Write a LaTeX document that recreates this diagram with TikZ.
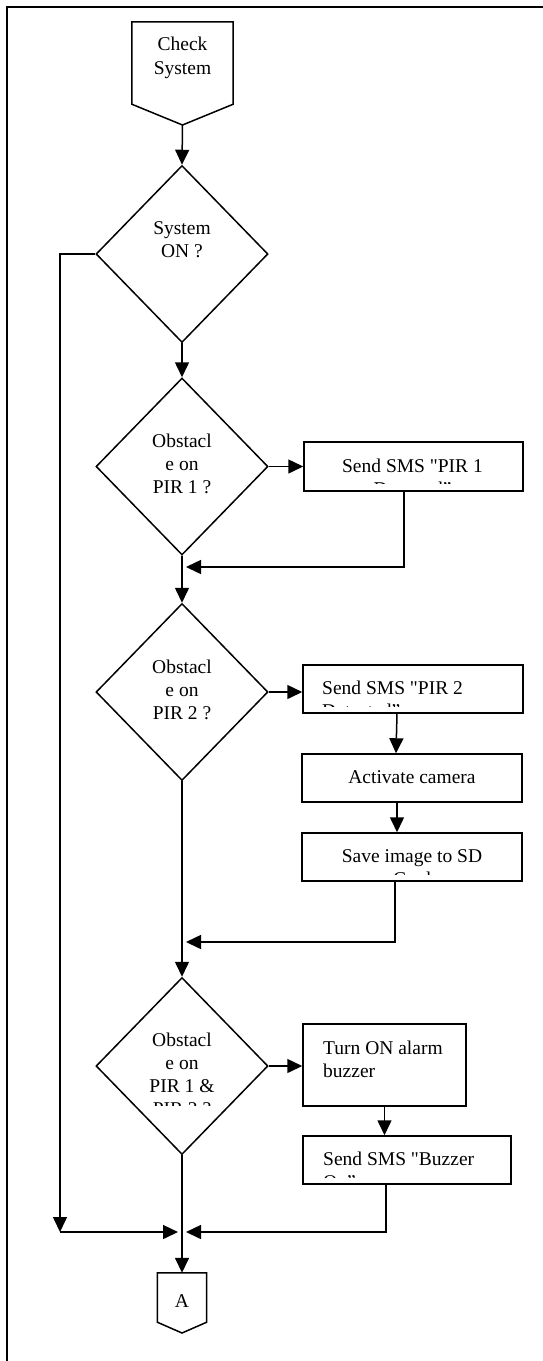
\documentclass[tikz,border=0pt]{standalone}
\usepackage{fontspec}
\newfontfamily\rawserif{Liberation Serif}
\usetikzlibrary{shapes.geometric,arrows.meta,calc}
\begin{document}
\begin{tikzpicture}[x=1pt,y=-1pt,
  every node/.style={font=\rawserif\fontsize{19.5}{23.5}\selectfont},
  shp/.style={draw,line width=1.5pt,inner sep=0pt},
  box/.style={shp,rectangle},
  dia/.style={shp,diamond,minimum width=172pt,minimum height=177pt},
  ghost/.style={rectangle,inner sep=0pt},
  ln/.style={line width=1.5pt},
  arr/.style={line width=1.5pt,-{Triangle[length=15pt,width=14pt]}},
  lbc/.style={anchor=base,inner sep=0pt},
  lbl/.style={anchor=base west,inner sep=0pt},
  frame/.style={line width=1.8pt}]
\useasboundingbox (0,0) rectangle (543,1361);
\draw[frame] (7,1361) -- (7,7) -- (543,7);

% Check System
\node[ghost,minimum width=101pt,minimum height=82pt] (cs) at (182.5,63) {};
\coordinate (cstip) at (182.5,125);
\draw[ln,line join=miter] (cs.north west) -- (cs.north east) -- (cs.south east) -- (cstip) -- (cs.south west) -- cycle;
\node[lbc] (cs1) at (182.5,50) {Check};
\node[lbc] (cs2) at (182.5,74) {System};

% Decisions
\node[dia] (d1) at (182,254) {};
\node[lbc] (d1a) at (182,234) {System};
\node[lbc] (d1b) at (182,257) {ON ?};

\node[dia] (d2) at (182,466.5) {};
\node[lbc] (d2a) at (182,447) {Obstacl};
\node[lbc] (d2b) at (182,470) {e on};
\node[lbc] (d2c) at (182,493) {PIR 1 ?};

\node[dia] (d3) at (182,692) {};
\node[lbc] (d3a) at (182,673) {Obstacl};
\node[lbc] (d3b) at (182,696) {e on};
\node[lbc] (d3c) at (182,719) {PIR 2 ?};

\node[dia] (d4) at (182,1066) {};
\node[lbc] (d4a) at (182,1046) {Obstacl};
\node[lbc] (d4b) at (182,1069) {e on};
\node[lbc] (d4c) at (182,1092) {PIR 1 \&};
\begin{scope}
  \clip (110,1097) rectangle (255,1105);
  \node[lbc] (d4d) at (182,1115.5) {PIR 2 ?};
\end{scope}

% Process boxes
\node[box,minimum width=219pt,minimum height=49pt] (b1) at (413.5,466.5) {};
\node[lbc] (b1a) at (412.5,472) {Send SMS "PIR 1};
\begin{scope}
  \clip (306,477) rectangle (521,483);
  \node[lbc] (b1b) at (412.5,495.5) {Detected”};
\end{scope}

\node[box,minimum width=220pt,minimum height=48pt] (b2) at (413,689) {};
\node[lbl] (b2a) at (322,694) {Send SMS "PIR 2};
\begin{scope}
  \clip (305,699) rectangle (521,706);
  \node[lbl] (b2b) at (322,717.5) {Detected”};
\end{scope}

\node[box,minimum width=220pt,minimum height=48pt] (b3) at (412,778) {};
\node[lbc] (b3a) at (412,783) {Activate camera};

\node[box,minimum width=220pt,minimum height=48pt] (b4) at (412,857) {};
\node[lbc] (b4a) at (412,862) {Save image to SD};
\begin{scope}
  \clip (304,867) rectangle (520,874);
  \node[lbc] (b4b) at (412,885.5) {Card};
\end{scope}

\node[box,minimum width=163pt,minimum height=82pt] (b5) at (384.5,1065) {};
\node[lbl] (b5a) at (323,1054) {Turn ON alarm};
\node[lbl] (b5b) at (323,1077.5) {buzzer};

\node[box,minimum width=208pt,minimum height=48pt] (b6) at (407,1160) {};
\node[lbl] (b6a) at (323,1165) {Send SMS "Buzzer};
\begin{scope}
  \clip (305,1170) rectangle (509,1177);
  \node[lbl] (b6b) at (323,1188.5) {On”};
\end{scope}

% Connector A
\node[ghost,minimum width=49pt,minimum height=49pt] (an) at (182,1297.5) {};
\coordinate (atip) at (182,1333);
\draw[ln,line join=miter] (an.north west) -- (an.north east) -- (an.south east) -- (atip) -- (an.south west) -- cycle;
\node[lbc] (ana) at (182,1307) {A};

% merge points
\coordinate (m1) at (182,567);
\coordinate (m2) at (182,942);
\coordinate (m3) at (182,1232);
\coordinate (lb) at (60,1232);

% connectors
\draw[arr] (cstip) -- (d1.north);
\draw[arr] (d1.west) -| (lb);
\draw[arr] (lb) -- ([xshift=-4pt]m3);
\draw[arr] (d1.south) -- (d2.north);
\draw[arr] (d2.east) -- (d2.east -| b1.west);
\draw[arr] ([xshift=-9.5pt]b1.south) |- ([xshift=4pt]m1);
\draw[arr] (d2.south) -- (d3.north);
\draw[arr] (d3.east) -- (d3.east -| b2.west);
\draw[arr] ([xshift=-16pt]b2.south) -- ([xshift=-16pt]b3.north);
\draw[arr] ([xshift=-15pt]b3.south) -- ([xshift=-15pt]b4.north);
\draw[arr] ([xshift=-17pt]b4.south) |- ([xshift=4pt]m2);
\draw[arr] (d3.south) -- (d4.north);
\draw[arr] (d4.east) -- (d4.east -| b5.west);
\draw[arr] (b5.south) -- (b5.south |- b6.north);
\draw[arr] ([xshift=-21pt]b6.south) |- ([xshift=4pt]m3);
\draw[arr] (d4.south) -- (an.north);
\end{tikzpicture}
\end{document}
